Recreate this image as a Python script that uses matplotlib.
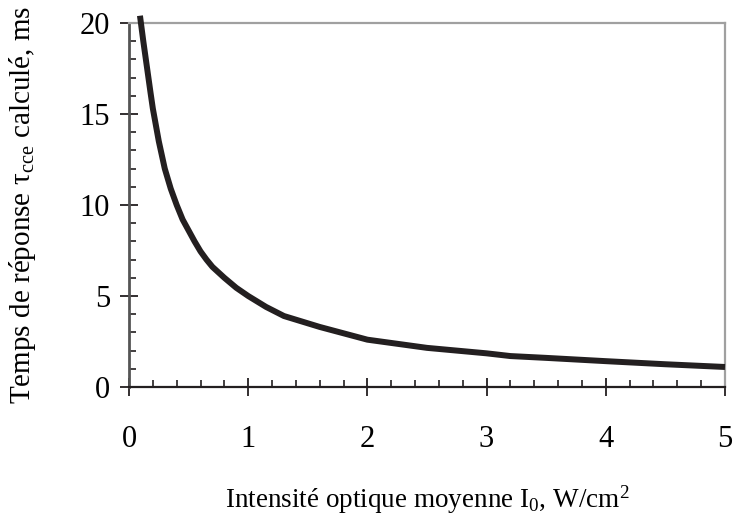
import matplotlib
matplotlib.use("Agg")
import matplotlib.pyplot as plt
from matplotlib.ticker import MultipleLocator

intensity = [0.092, 0.1, 0.12, 0.15, 0.18, 0.2, 0.25, 0.3, 0.35, 0.4, 0.45, 0.5,
             0.55, 0.6, 0.65, 0.7, 0.8, 0.9, 1.0, 1.15, 1.3, 1.6, 2.0, 2.5,
             3.0, 3.2, 3.5, 4.0, 4.5, 5.0]
tau = [20.4, 20.0, 19.0, 17.6, 16.2, 15.3, 13.5, 12.0, 10.9, 10.0, 9.2, 8.6,
       8.0, 7.45, 7.0, 6.6, 6.0, 5.45, 5.0, 4.4, 3.9, 3.3, 2.6, 2.15,
       1.85, 1.7, 1.6, 1.42, 1.25, 1.1]
xticks = [0, 1, 2, 3, 4, 5]
yticks = [0, 5, 10, 15, 20]

plt.rcParams['font.family'] = ['Liberation Serif', 'DejaVu Serif']
plt.rcParams['mathtext.fontset'] = 'custom'
plt.rcParams['mathtext.rm'] = 'Liberation Serif'
plt.rcParams['mathtext.it'] = 'Liberation Serif:italic'

fig = plt.figure(figsize=(7.34, 5.2), dpi=100)
ax = fig.add_axes([129/734, 1-387/520, (725-129)/734, (387-23)/520])

ax.plot(intensity, tau, color='#231f20', lw=4.3, clip_on=False, solid_capstyle='butt',
        solid_joinstyle='round', zorder=5)

ax.set_xlim(0, 5)
ax.set_ylim(0, 20)
ax.set_xticks(xticks)
ax.set_yticks(yticks)
ax.xaxis.set_minor_locator(MultipleLocator(0.2))
ax.yaxis.set_minor_locator(MultipleLocator(1))

ax.tick_params(which='major', direction='inout', length=13, width=1.3, color='#231f20',
               labelsize=22)
ax.tick_params(axis='x', which='major', pad=21)
ax.tick_params(axis='y', which='major', pad=7)
ax.tick_params(which='minor', direction='in', length=5, width=1.2, color='#231f20')

ax.spines['bottom'].set_color('#231f20')
ax.spines['bottom'].set_linewidth(1.6)
ax.spines['left'].set_color('#555555')
ax.spines['left'].set_linewidth(2.0)
ax.spines['top'].set_color('#a0a0a0')
ax.spines['top'].set_linewidth(1.6)
ax.spines['right'].set_color('#a0a0a0')
ax.spines['right'].set_linewidth(1.6)

ax.set_xlabel(r"Intensité optique moyenne I$_0$, W/cm$^2$", fontsize=19.5)
ax.set_ylabel(r"Temps de réponse $\mathrm{τ}_{\mathrm{cce}}$ calculé, ms", fontsize=21)
ax.yaxis.set_label_coords(-0.153, 0.5)
ax.xaxis.set_label_coords(0.5, -0.265)

fig.savefig("out.png", dpi=100)
